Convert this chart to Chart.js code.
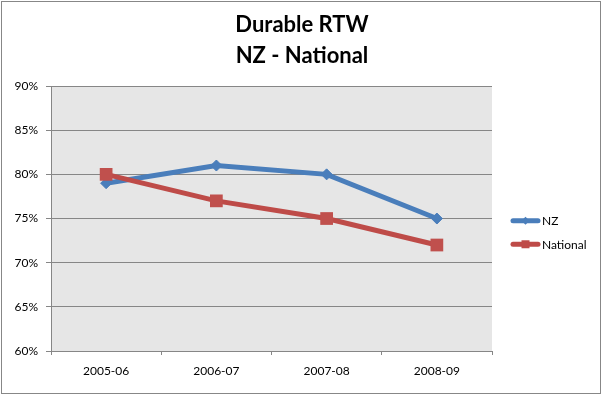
<!DOCTYPE html>
<html><head><meta charset="utf-8">
<script src="https://cdn.jsdelivr.net/npm/chart.js@4/dist/chart.umd.min.js"></script>
<style>
html,body{margin:0;padding:0;background:#fff;}
#wrap{position:relative;width:603px;height:395px;}
#frame{position:absolute;left:1px;top:1px;width:598px;height:391px;border:1px solid #878787;pointer-events:none;}
canvas{position:absolute;left:0;top:0;}
</style></head><body>
<div id="wrap"><canvas id="c" width="603" height="395"></canvas><div id="frame"></div></div>
<script>
const titleLines = ['Durable RTW', 'NZ - National'];
const categories = ['2005-06', '2006-07', '2007-08', '2008-09'];
const nzValues = [79, 81, 80, 75];
const nationalValues = [80, 77, 75, 72];
const yMin = 60, yMax = 90, yStep = 5;

const FONT = 'Lato, "Open Sans", sans-serif';
const GRID = '#868686';

const plotBg = {
  id: 'plotBg',
  beforeDraw(chart) {
    const a = chart.chartArea, ctx = chart.ctx;
    ctx.save();
    ctx.fillStyle = '#e6e6e6';
    ctx.fillRect(a.left, a.top, a.right - a.left, a.bottom - a.top);
    ctx.restore();
  }
};

const sideLegend = {
  id: 'sideLegend',
  afterDraw(chart) {
    const ctx = chart.ctx, a = chart.chartArea;
    const x0 = a.right + 19, len = 29;
    const rowH = 23.5;
    const ds = chart.data.datasets;
    const cy = (a.top + a.bottom) / 2 + 14 - (ds.length - 1) * rowH / 2;
    ds.forEach((d, i) => {
      const y = cy + i * rowH;
      ctx.save();
      ctx.strokeStyle = d.borderColor;
      ctx.lineWidth = d.borderWidth;
      ctx.lineCap = 'round';
      ctx.beginPath();
      ctx.moveTo(x0 + 2, y);
      ctx.lineTo(x0 + len - 2, y);
      ctx.stroke();
      ctx.fillStyle = d.backgroundColor;
      const cx = x0 + len / 2;
      ctx.beginPath();
      if (d.pointStyle === 'rectRot') {
        const r = 4;
        ctx.moveTo(cx, y - r); ctx.lineTo(cx + r, y); ctx.lineTo(cx, y + r); ctx.lineTo(cx - r, y);
        ctx.closePath();
      } else {
        const s = 4;
        ctx.rect(cx - s, y - s, 2 * s, 2 * s);
      }
      ctx.fill();
      ctx.fillStyle = '#000';
      ctx.font = '12px ' + FONT;
      ctx.textBaseline = 'middle';
      ctx.textAlign = 'left';
      ctx.fillText(d.label, x0 + len + 2, y + 0.5);
      ctx.restore();
    });
  }
};

new Chart(document.getElementById('c'), {
  type: 'line',
  data: {
    labels: categories,
    datasets: [
      {
        label: 'NZ', data: nzValues, order: 1,
        borderColor: '#4a7ebb', backgroundColor: '#4a7ebb', borderWidth: 5,
        pointStyle: 'rectRot', pointRadius: 5.5, pointBorderWidth: 1,
        pointBackgroundColor: '#4a7ebb', pointBorderColor: '#4a7ebb', tension: 0
      },
      {
        label: 'National', data: nationalValues, order: 0,
        borderColor: '#be4b48', backgroundColor: '#be4b48', borderWidth: 5,
        pointStyle: 'rect', pointRadius: 9, pointBorderWidth: 0,
        pointBackgroundColor: '#c0504d', pointBorderColor: '#c0504d', tension: 0
      }
    ]
  },
  options: {
    responsive: false, animation: false, devicePixelRatio: 1,
    layout: { padding: { left: 1, right: 0, top: 0, bottom: 0 } },
    plugins: {
      legend: { display: false },
      tooltip: { enabled: false },
      title: {
        display: true, text: titleLines, color: '#000',
        font: { family: FONT, size: 22, weight: 'bold', lineHeight: 1.41 },
        padding: { top: 9, bottom: 15 }
      }
    },
    scales: {
      x: {
        type: 'category', offset: true,
        grid: { offset: true, drawOnChartArea: false, drawTicks: true, tickLength: 4, color: GRID },
        border: { display: true, color: GRID },
        ticks: { color: '#000', font: { family: FONT, size: 12 }, padding: 9, maxRotation: 0 },
        afterFit(s) { s.height = 44; }
      },
      y: {
        min: yMin, max: yMax,
        grid: { color: GRID, tickLength: 5, drawTicks: true },
        border: { display: true, color: GRID },
        ticks: { stepSize: yStep, color: '#000', font: { family: FONT, size: 12 }, padding: 8,
                 callback: v => v + '%' },
        afterFit(s) { s.width = 50; }
      },
      legendSpace: {
        type: 'linear', position: 'right', display: true,
        grid: { display: false, drawOnChartArea: false },
        border: { display: false },
        ticks: { display: false },
        afterFit(s) { s.width = 111; }
      }
    }
  },
  plugins: [plotBg, sideLegend]
});
</script>
</body></html>
